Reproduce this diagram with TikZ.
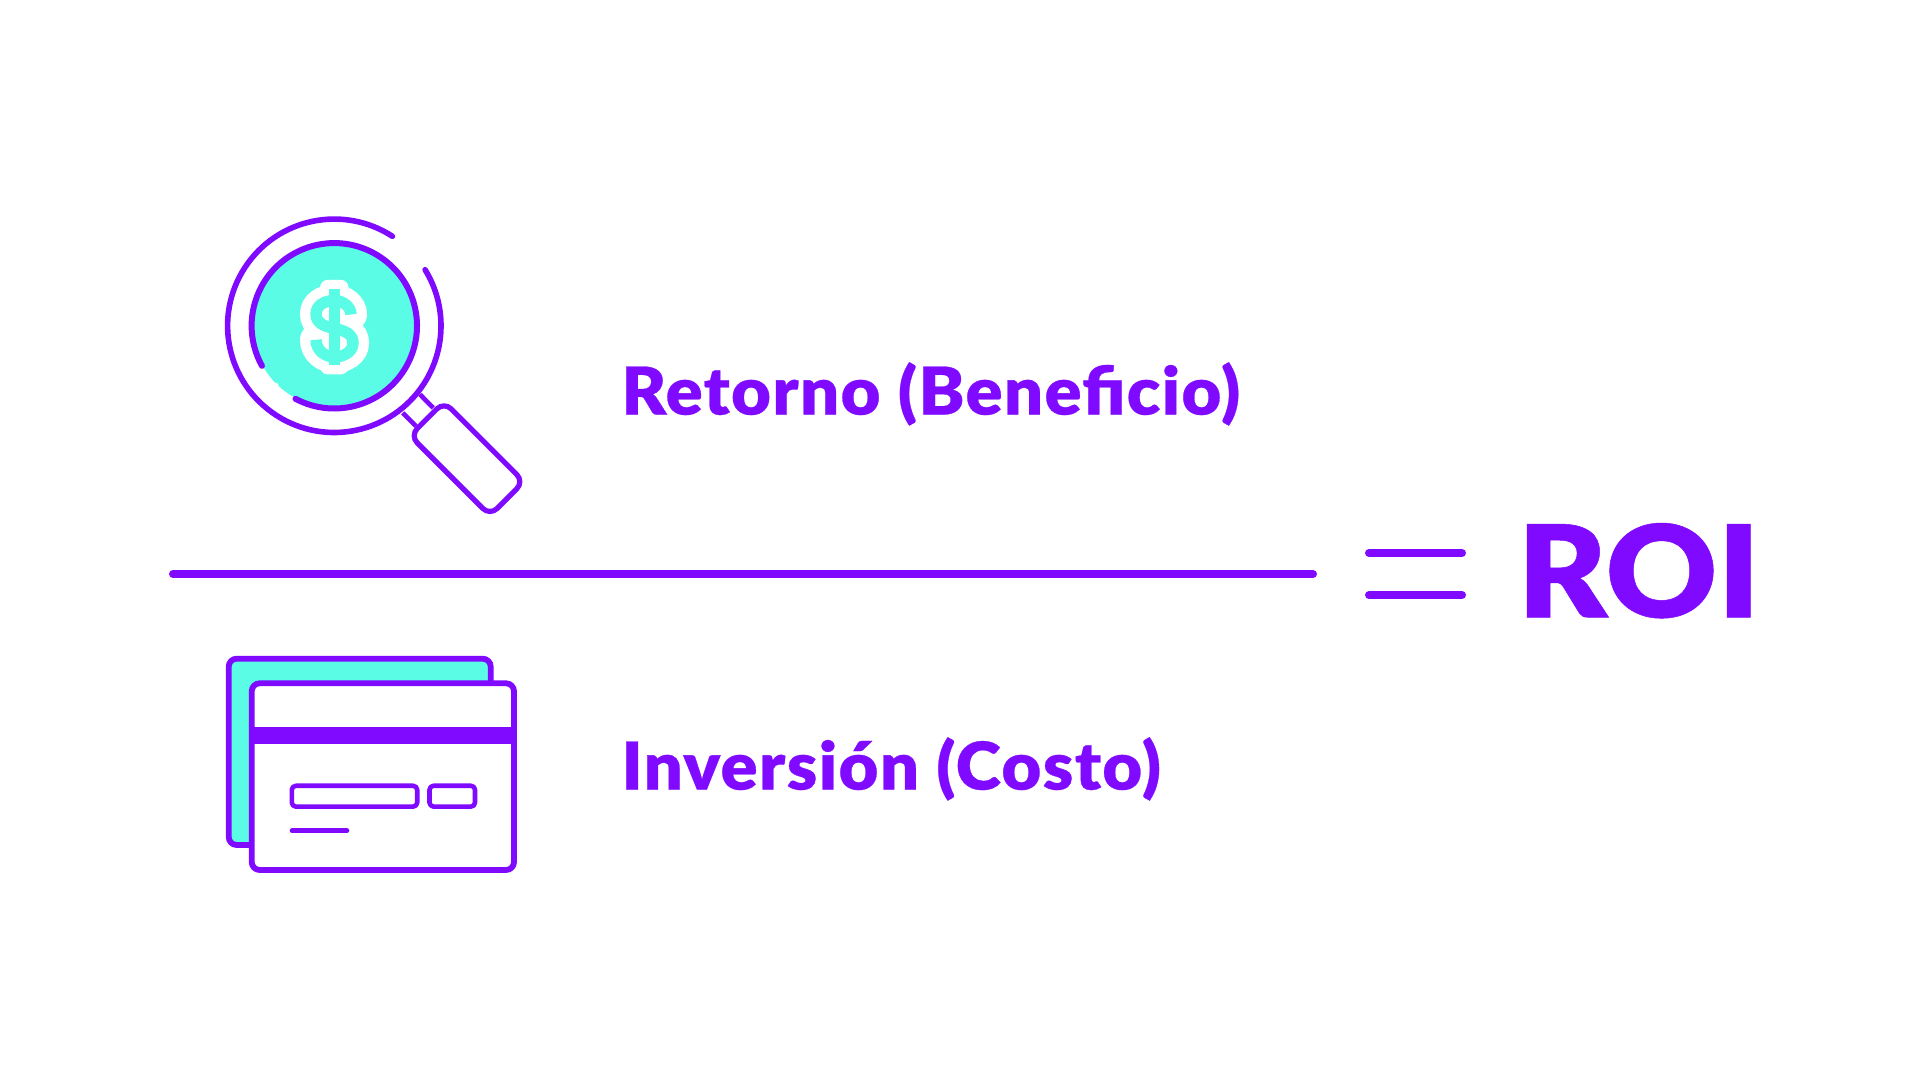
\documentclass[tikz,border=0pt]{standalone}
\usepackage{fontspec}
\usepackage{color}
\newfontfamily\roifont[FakeBold=0.4,FakeStretch=1.04,LetterSpace=2.2]{Lato Black}
\newfontfamily\roibigfont[FakeBold=0.4,FakeStretch=1.07]{Lato Black}
\definecolor{roiviolet}{RGB}{127,10,255}
\definecolor{roiteal}{RGB}{91,252,230}
\tikzset{
	violetline/.style={draw=roiviolet,line width=2.8pt,line cap=round},
	thinline/.style={draw=roiviolet,line width=2.3pt,line join=round},
	cardbox/.style={draw=roiviolet,line width=2.9pt,rounded corners=4pt},
	smalltext/.style={text=roiviolet,anchor=base west,inner sep=0pt,font=\roifont\fontsize{33}{36}\selectfont},
	bigtext/.style={text=roiviolet,anchor=base west,inner sep=0pt,font=\roibigfont\fontsize{64}{70}\selectfont}
}
\begin{document}
\begin{tikzpicture}[x=0.5pt,y=0.5pt]
	\useasboundingbox (0,0) rectangle (1920,1080);
	% magnifier
	\draw[violetline] (334.3,754.2) ++(57:53.35pt) arc[start angle=57,end angle=391.7,radius=53.35pt];
	\draw[thinline] (420,685.5) -- (433.3,672.1) (402.7,667.1) -- (416,653.8);
	\fill[roiteal] (334.3,754.2) circle (41pt);
	\draw[violetline,line width=3pt] (334.3,754.2) ++(242:41.35pt) arc[start angle=242,end angle=569,radius=41.35pt];
	\fill[white] (276,694.5) circle (1.3pt);
	\scope[shift={(467,621.3)},rotate=-45]
	\draw[violetline,fill=white,line width=2.6pt,rounded corners=5pt] (-56.5,-24) rectangle (56.5,24);
	\endscope
	% dollar sign
	\fill[white,rounded corners=4pt] (320,800.2) rectangle (348.6,705.5);
	\draw[white,line width=16pt,line cap=round] (351,765.5) .. controls (351,773) and (343,779.5) .. (334.3,779.5)
	.. controls (324,779.5) and (316,774) .. (316,766)
	.. controls (316,756.5) and (325,753.5) .. (334.3,751.5)
	.. controls (344,749.5) and (353,746.5) .. (353,737)
	.. controls (353,728.5) and (344,723) .. (334.3,723)
	.. controls (325,723) and (316,730) .. (316,740.2);
	\draw[roiteal,line width=5.7pt] (351,765.5) .. controls (351,773) and (343,779.5) .. (334.3,779.5)
	.. controls (324,779.5) and (316,774) .. (316,766)
	.. controls (316,756.5) and (325,753.5) .. (334.3,751.5)
	.. controls (344,749.5) and (353,746.5) .. (353,737)
	.. controls (353,728.5) and (344,723) .. (334.3,723)
	.. controls (325,723) and (316,730) .. (316,740.2);
	\draw[roiteal,line width=5.5pt] (334.3,790.5) -- (334.3,714.5);
	% fraction and equals
	\draw[violetline,line width=4pt] (173,506) -- (1313,506);
	\draw[violetline,line width=4pt] (1369,527) -- (1462,527);
	\draw[violetline,line width=4pt] (1369,485) -- (1462,485);
	% cards
	\draw[cardbox,fill=roiteal] (228.7,421.3) rectangle (490.7,235);
	\draw[cardbox,fill=white] (251.7,396.7) rectangle (514,210);
	\fill[roiviolet] (251.7,353.3) rectangle (514,335.7);
	\draw[thinline,rounded corners=2pt] (291.8,294.2) rectangle (417.2,273.4);
	\draw[thinline,rounded corners=2pt] (429.5,294.2) rectangle (475,273.4);
	\draw[thinline,line cap=round] (292,249.3) -- (347,249.3);
	% labels
	\node[smalltext] (retorno) at (621,665.4) {Retorno (Beneﬁcio)};
	\node[smalltext] (inversion) at (621,290.4) {Inversión (Costo)};
	\node[bigtext] (roi) at (1517,462.7) {ROI};
\end{tikzpicture}
\end{document}
